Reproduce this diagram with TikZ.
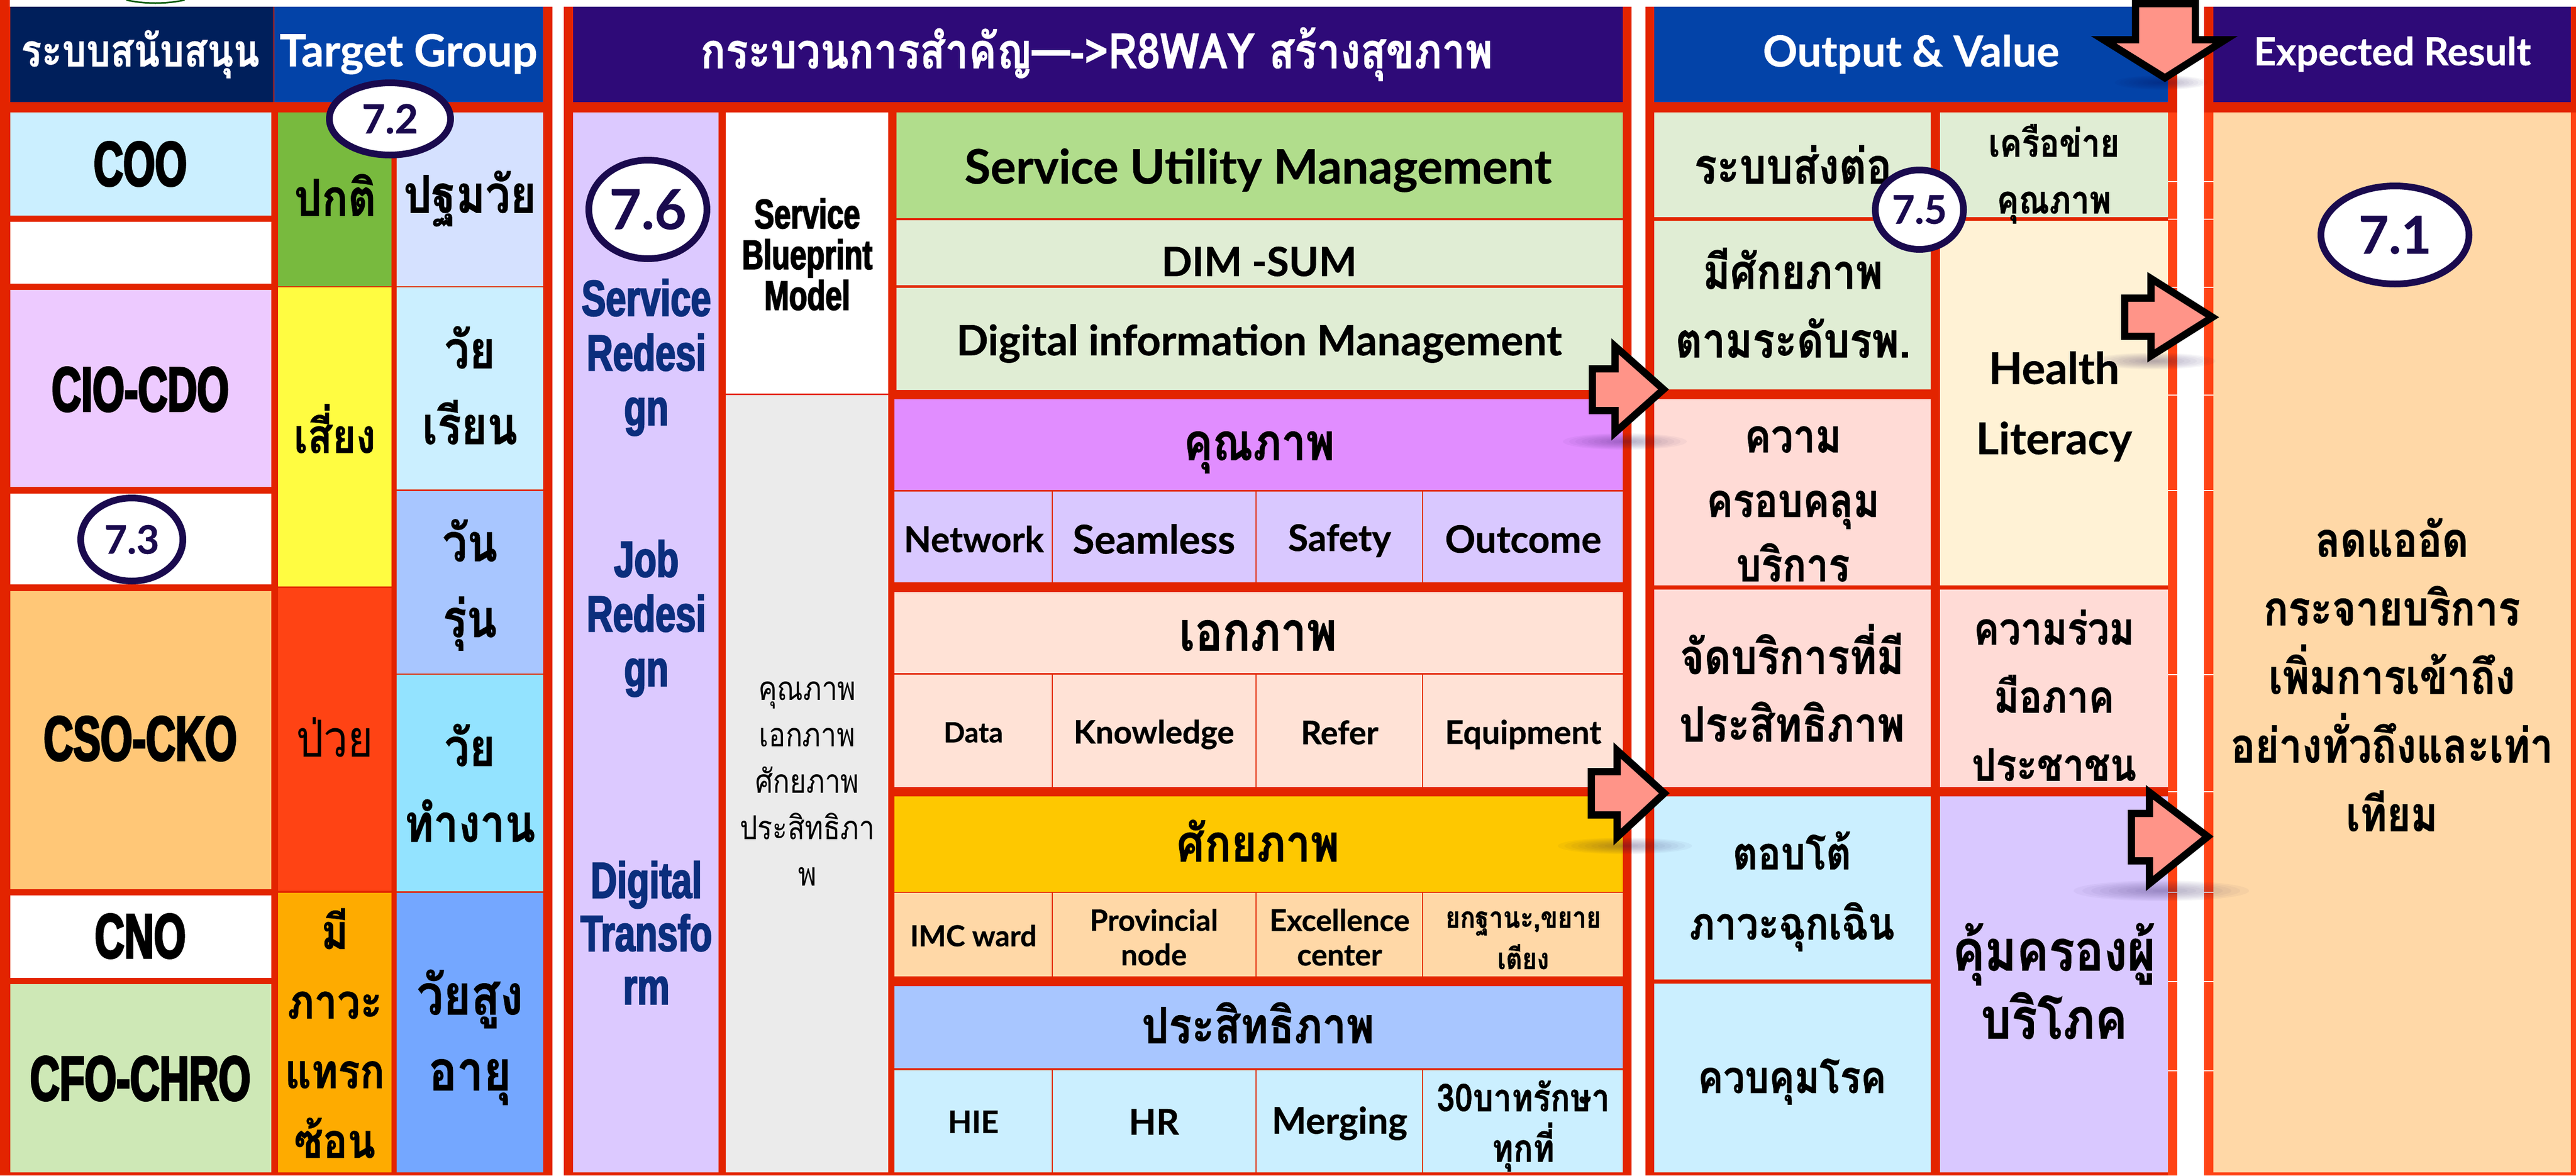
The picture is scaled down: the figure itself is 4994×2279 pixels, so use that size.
\documentclass[tikz,border=0pt]{standalone}
\usepackage{fontspec}
\usetikzlibrary{shapes.geometric}
\newfontfamily\thr[Script=Thai,FakeStretch=0.85]{Loma}
\newfontfamily\thb[Script=Thai,FakeStretch=0.85,FakeBold=0.8]{Loma Bold}
\newfontfamily\lab[FakeBold=0.6]{Lato Bold}
\newfontfamily\imp[FakeStretch=0.65,FakeBold=3]{Liberation Sans Bold}
\newfontfamily\impb[FakeStretch=0.72,FakeBold=2.5]{Liberation Sans Bold}
\newcommand{\fs}[2]{\fontsize{#1}{#2}\selectfont}
\definecolor{redA}{HTML}{E32400}
\definecolor{redB}{HTML}{FF4314}
\definecolor{navy}{HTML}{001F5B}
\definecolor{blueH}{HTML}{0343A8}
\definecolor{purpH}{HTML}{2E0A78}
\definecolor{sky}{HTML}{CBEFFF}
\definecolor{lilac}{HTML}{EDCAFF}
\definecolor{tan}{HTML}{FFC777}
\definecolor{mint}{HTML}{CEE8B6}
\definecolor{greenA}{HTML}{78BA3E}
\definecolor{yellowA}{HTML}{FFFC41}
\definecolor{orangeA}{HTML}{FEAB00}
\definecolor{paleB}{HTML}{D5E1FF}
\definecolor{midB}{HTML}{A8C6FF}
\definecolor{cyanA}{HTML}{93E3FF}
\definecolor{deepB}{HTML}{74A7FF}
\definecolor{purpC}{HTML}{DCC9FF}
\definecolor{greyA}{HTML}{EBEBEB}
\definecolor{sumG}{HTML}{B1DD8C}
\definecolor{paleG}{HTML}{E0EDD4}
\definecolor{magA}{HTML}{E18DFF}
\definecolor{purpD}{HTML}{D9C8FF}
\definecolor{peachA}{HTML}{FFE2D6}
\definecolor{goldA}{HTML}{FEC800}
\definecolor{peachB}{HTML}{FFD8A7}
\definecolor{creamA}{HTML}{FFF2D5}
\definecolor{pinkA}{HTML}{FFDBD6}
\definecolor{inkA}{HTML}{1A0A4E}
\definecolor{blueT}{HTML}{0B2E7D}
\definecolor{salmon}{HTML}{FF9488}
\tikzset{
  cellbox/.style={rectangle,inner sep=0pt,outer sep=0pt,draw=none},
  lbl/.style={inner sep=0pt,outer sep=0pt,align=center},
  badge/.style={ellipse,draw=inkA,line width=13pt,fill=white,inner sep=0pt,text=inkA},
  blockarrow/.style={draw=black,fill=salmon,line width=14pt,line join=miter,miter limit=10},
}
\newcommand{\cell}[6]{%
  \pgfmathsetmacro{\cw}{#4-#2}\pgfmathsetmacro{\ch}{#5-#3}%
  \pgfmathsetmacro{\cx}{(#4+#2)/2}\pgfmathsetmacro{\cy}{(#5+#3)/2}%
  \node[cellbox,fill=#6,minimum width=\cw pt,minimum height=\ch pt] (#1) at (\cx,\cy) {};}
\newcommand{\tx}[6][black]{\node[lbl,text=#1,font={#5}] (#2) at (#3,#4) {#6};}
\newcommand{\shadowblur}[4]{%
  \foreach \k in {1,0.9,0.8,0.7,0.6,0.5,0.4,0.3,0.2,0.1}{%
    \fill[inkA,opacity=0.035] (#1,#2) ellipse [x radius=\k*#3 pt,y radius=\k*#4 pt];}}
\newcommand{\badgeat}[7]{% name x0 y0 x1 y1 size text
  \pgfmathsetmacro{\cw}{#4-#2-13}\pgfmathsetmacro{\ch}{#5-#3-13}%
  \pgfmathsetmacro{\cx}{(#4+#2)/2}\pgfmathsetmacro{\cy}{(#5+#3)/2}%
  \node[badge,minimum width=\cw pt,minimum height=\ch pt,font={\lab\fs{#6}{#6}}] (#1) at (\cx,\cy) {#7};}
\begin{document}
\begin{tikzpicture}[x=1pt,y=-1pt]
\useasboundingbox (0,0) rectangle (4994,2279);
\fill[white] (0,0) rectangle (4994,2279);
\draw[green!35!black,line width=3pt] (245,0) .. controls (280,8) and (322,8) .. (358,0);
% red frames
\fill[redA] (0,0) rectangle (19,2279);
\fill[redA] (0,13) rectangle (1071,2279);
\fill[redA] (1093,13) rectangle (3163,2279);
\fill[redA] (3190,13) rectangle (4221,2279);
\fill[redB] (4203,218) rectangle (4221,2279);
\fill[redB] (4273,13) rectangle (4994,2279);
\fill[redA] (4273,13) rectangle (4994,218);
% headers
\cell{hA}{20}{13}{530}{198}{navy}
\cell{hB}{532}{13}{1053}{198}{blueH}
\cell{hC}{1111}{13}{3146}{198}{purpH}
\cell{hD}{3207}{13}{4203}{198}{blueH}
\cell{hE}{4291}{13}{4984}{198}{purpH}
% column 1
\cell{cA}{20}{218}{526}{418}{sky}
\cell{cB}{20}{430}{526}{550}{white}
\cell{cC}{20}{562}{526}{944}{lilac}
\cell{cD}{20}{957}{526}{1133}{white}
\cell{cE}{20}{1146}{526}{1724}{tan}
\cell{cF}{20}{1736}{526}{1896}{white}
\cell{cG}{20}{1908}{526}{2273}{mint}
% column 2
\cell{dA}{539}{218}{759}{555}{greenA}
\cell{dB}{539}{557}{759}{1137}{yellowA}
\cell{dC}{539}{1140}{759}{1727}{redB}
\cell{dD}{539}{1731}{759}{2273}{orangeA}
% column 3
\cell{eA}{769}{218}{1053}{555}{paleB}
\cell{eB}{769}{557}{1053}{949}{sky}
\cell{eC}{769}{952}{1053}{1306}{midB}
\cell{eD}{769}{1308}{1053}{1728}{cyanA}
\cell{eE}{769}{1731}{1053}{2273}{deepB}
% process left
\cell{fA}{1111}{218}{1393}{2273}{purpC}
\cell{fB}{1407}{218}{1722}{763}{white}
\cell{fC}{1407}{766}{1722}{2273}{greyA}
% process centre
\cell{gA}{1738}{218}{3146}{423}{sumG}
\cell{gB}{1738}{427}{3146}{553}{paleG}
\cell{gC}{1738}{558}{3146}{756}{paleG}
\cell{gD}{1734}{774}{3146}{950}{magA}
\cell{gE1}{1734}{953}{2039}{1129}{purpD}
\cell{gE2}{2041}{953}{2434}{1129}{purpD}
\cell{gE3}{2436}{953}{2757}{1129}{purpD}
\cell{gE4}{2759}{953}{3146}{1129}{purpD}
\cell{gF}{1734}{1148}{3146}{1305}{peachA}
\cell{gG1}{1734}{1308}{2039}{1526}{peachA}
\cell{gG2}{2041}{1308}{2434}{1526}{peachA}
\cell{gG3}{2436}{1308}{2757}{1526}{peachA}
\cell{gG4}{2759}{1308}{3146}{1526}{peachA}
\cell{gH}{1734}{1544}{3146}{1729}{goldA}
\cell{gI1}{1734}{1731}{2039}{1893}{peachB}
\cell{gI2}{2041}{1731}{2434}{1893}{peachB}
\cell{gI3}{2436}{1731}{2757}{1893}{peachB}
\cell{gI4}{2759}{1731}{3146}{1893}{peachB}
\cell{gJ}{1734}{1912}{3146}{2071}{midB}
\cell{gK1}{1734}{2075}{2039}{2273}{sky}
\cell{gK2}{2041}{2075}{2434}{2273}{sky}
\cell{gK3}{2436}{2075}{2757}{2273}{sky}
\cell{gK4}{2759}{2075}{3146}{2273}{sky}
% outputs
\cell{oA}{3207}{218}{3743}{421}{paleG}
\cell{oB}{3207}{428}{3743}{755}{paleG}
\cell{oC}{3207}{774}{3743}{1135}{pinkA}
\cell{oD}{3207}{1143}{3743}{1526}{pinkA}
\cell{oE}{3207}{1544}{3743}{1899}{sky}
\cell{oF}{3207}{1907}{3743}{2273}{sky}
\cell{pA}{3761}{218}{4203}{421}{paleG}
\cell{pB}{3761}{428}{4203}{1135}{creamA}
\cell{pC}{3761}{1143}{4203}{1526}{pinkA}
\cell{pD}{3761}{1544}{4203}{2273}{purpD}
\cell{qA}{4291}{218}{4984}{2273}{peachB}
% small white ticks in the strips
\foreach \yy in {351,424,556,765,950,1307,1534,1729,1902,2075}{%
  \fill[white] (4203,\yy) rectangle (4221,\yy+2);
  \fill[white] (4273,\yy) rectangle (4291,\yy+2);}
% header text
\tx[white]{tA}{272}{105}{\thb\fs{87}{90}}{ระบบสนับสนุน}
\tx[white]{tB}{792}{105}{\lab\fs{86}{96}}{Target Group}
\tx[white]{tC}{2126}{105}{\thb\fs{95}{100}}{กระบวนการสำคัญ—->R8WAY สร้างสุขภาพ}
\tx[white]{tD}{3705}{105}{\lab\fs{83}{96}}{Output \& Value}
\tx[white]{tE}{4638}{105}{\lab\fs{75}{86}}{Expected Result}
% column 1 text
\tx{ta}{272}{318}{\imp\fs{122}{130}}{COO}
\tx{tb}{272}{755}{\imp\fs{122}{130}}{CIO-CDO}
\tx{tc}{272}{1432}{\imp\fs{122}{130}}{CSO-CKO}
\tx{td}{272}{1815}{\imp\fs{122}{130}}{CNO}
\tx{te}{272}{2091}{\imp\fs{122}{130}}{CFO-CHRO}
% column 2 text
\tx{ua}{650}{378}{\thb\fs{99}{100}}{ปกติ}
\tx{ub}{649}{831}{\thb\fs{92}{100}}{เสี่ยง}
\tx{uc}{649}{1429}{\thr\fs{99}{100}}{ป่วย}
\tx{ud}{649}{2003}{\thb\fs{93}{135}}{มี\\ภาวะ\\แทรก\\ซ้อน}
% column 3 text
\tx{va}{911}{385}{\thb\fs{101}{100}}{ปฐมวัย}
\tx{vb}{911}{747}{\thb\fs{101}{147}}{วัย\\เรียน}
\tx{vc}{911}{1134}{\thb\fs{101}{147}}{วัน\\รุ่น}
\tx{vd}{911}{1518}{\thb\fs{101}{147}}{วัย\\ทำงาน}
\tx{ve}{911}{2011}{\thb\fs{108}{147}}{วัยสูง\\อายุ}
% purple column
\tx[blueT]{wa}{1253}{693}{\impb\fs{98}{106}}{Service\\Redesi\\gn}
\tx[blueT]{wb}{1253}{1199}{\impb\fs{98}{106}}{Job\\Redesi\\gn}
\tx[blueT]{wc}{1253}{1808}{\impb\fs{98}{103}}{Digital\\Transfo\\rm}
\tx{xa}{1565}{493}{\impb\fs{80}{79}}{Service\\Blueprint\\Model}
\tx{xb}{1565}{1520}{\thr\fs{64}{90}}{คุณภาพ\\เอกภาพ\\ศักยภาพ\\ประสิทธิภา\\พ}
% centre text
\tx{ya}{2439}{330}{\lab\fs{92}{96}}{Service Utility Management}
\tx{yb}{2441}{507}{\lab\fs{78}{96}}{DIM -SUM}
\tx{yc}{2441}{666}{\lab\fs{81}{84}}{Digital information Management}
\tx{yd}{2441}{877}{\thb\fs{99}{100}}{คุณภาพ}
\tx{ye1}{1888}{1045}{\lab\fs{69}{70}}{Network}
\tx{ye2}{2237}{1045}{\lab\fs{77}{80}}{Seamless}
\tx{ye3}{2597}{1048}{\lab\fs{71}{80}}{Safety}
\tx{ye4}{2953}{1045}{\lab\fs{73}{80}}{Outcome}
\tx{yf}{2439}{1232}{\thb\fs{105}{100}}{เอกภาพ}
\tx{yg1}{1887}{1420}{\lab\fs{54}{60}}{Data}
\tx{yg2}{2237}{1424}{\lab\fs{62}{68}}{Knowledge}
\tx{yg3}{2597}{1420}{\lab\fs{63}{68}}{Refer}
\tx{yg4}{2953}{1424}{\lab\fs{63}{68}}{Equipment}
\tx{yh}{2439}{1630}{\thb\fs{100}{100}}{ศักยภาพ}
\tx{yi1}{1887}{1814}{\lab\fs{56}{62}}{IMC ward}
\tx{yi2}{2237}{1817}{\lab\fs{57}{67}}{Provincial\\node}
\tx{yi3}{2597}{1817}{\lab\fs{58}{67}}{Excellence\\center}
\tx{yi4}{2953}{1823}{\thb\fs{57}{80}}{ยกฐานะ,ขยาย\\เตียง}
\tx{yj}{2439}{1983}{\thb\fs{97}{100}}{ประสิทธิภาพ}
\tx{yk1}{1887}{2175}{\lab\fs{60}{70}}{HIE}
\tx{yk2}{2237}{2175}{\lab\fs{69}{70}}{HR}
\tx{yk3}{2597}{2178}{\lab\fs{71}{80}}{Merging}
\tx{yk4}{2953}{2183}{\thb\fs{74}{98}}{30บาทรักษา\\ทุกที่}
% output text
\tx{za}{3476}{319}{\thb\fs{96}{100}}{ระบบส่งต่อ}
\tx{zb}{3982}{337}{\thb\fs{75}{110}}{เครือข่าย\\คุณภาพ}
\tx{zc}{3476}{587}{\thb\fs{94}{133}}{มีศักยภาพ\\ตามระดับรพ.}
\tx{zd}{3982}{788}{\lab\fs{85}{136}}{Health\\Literacy}
\tx{ze}{3476}{977}{\thb\fs{90}{125}}{ความ\\ครอบคลุม\\บริการ}
\tx{zf}{3474}{1324}{\thb\fs{94}{131}}{จัดบริการที่มี\\ประสิทธิภาพ}
\tx{zg}{3982}{1348}{\thb\fs{87}{132}}{ความร่วม\\มือภาค\\ประชาชน}
\tx{zh}{3474}{1728}{\thb\fs{88}{136}}{ตอบโต้\\ภาวะฉุกเฉิน}
\tx{zi}{3474}{2097}{\thb\fs{87}{100}}{ควบคุมโรค}
\tx{zj}{3982}{1902}{\thb\fs{110}{132}}{คุ้มครองผู้\\บริโภค}
\tx{zk}{4637}{1308}{\thb\fs{93}{133}}{ลดแออัด\\กระจายบริการ\\เพิ่มการเข้าถึง\\อย่างทั่วถึงและเท่า\\เทียม}
% soft shadows under the block arrows
\shadowblur{4190}{160}{90}{14}
\shadowblur{4175}{700}{120}{16}
\shadowblur{3150}{856}{120}{16}
\shadowblur{3150}{1640}{130}{16}
\shadowblur{4190}{1727}{170}{20}
% block arrows
\draw[blockarrow] (4140,7) -- (4256,7) -- (4256,77) -- (4314,77) -- (4197,151) -- (4078,77) -- (4140,77) -- cycle;
\draw[blockarrow] (4119,578) -- (4170,578) -- (4170,540) -- (4289,615) -- (4170,690) -- (4170,652) -- (4119,652) -- cycle;
\draw[blockarrow] (3087,715) -- (3131,715) -- (3131,671.5) -- (3225,755) -- (3131,838.5) -- (3131,796) -- (3087,796) -- cycle;
\draw[blockarrow] (3085,1496) -- (3135,1496) -- (3135,1455) -- (3226.5,1538) -- (3135,1623) -- (3135,1580) -- (3085,1580) -- cycle;
\draw[blockarrow] (4132,1577) -- (4167,1577) -- (4167,1536) -- (4280,1622) -- (4167,1713) -- (4167,1669) -- (4132,1669) -- cycle;
% badges
\badgeat{b1}{4493}{354}{4793}{557}{101}{7.1}
\badgeat{b2}{632}{154}{880}{307}{78}{7.2}
\badgeat{b3}{150}{959}{361}{1133}{76}{7.3}
\badgeat{b5}{3629}{323}{3813}{490}{76}{7.5}
\badgeat{b6}{1135}{304}{1377}{508}{107}{7.6}
\end{tikzpicture}
\end{document}
